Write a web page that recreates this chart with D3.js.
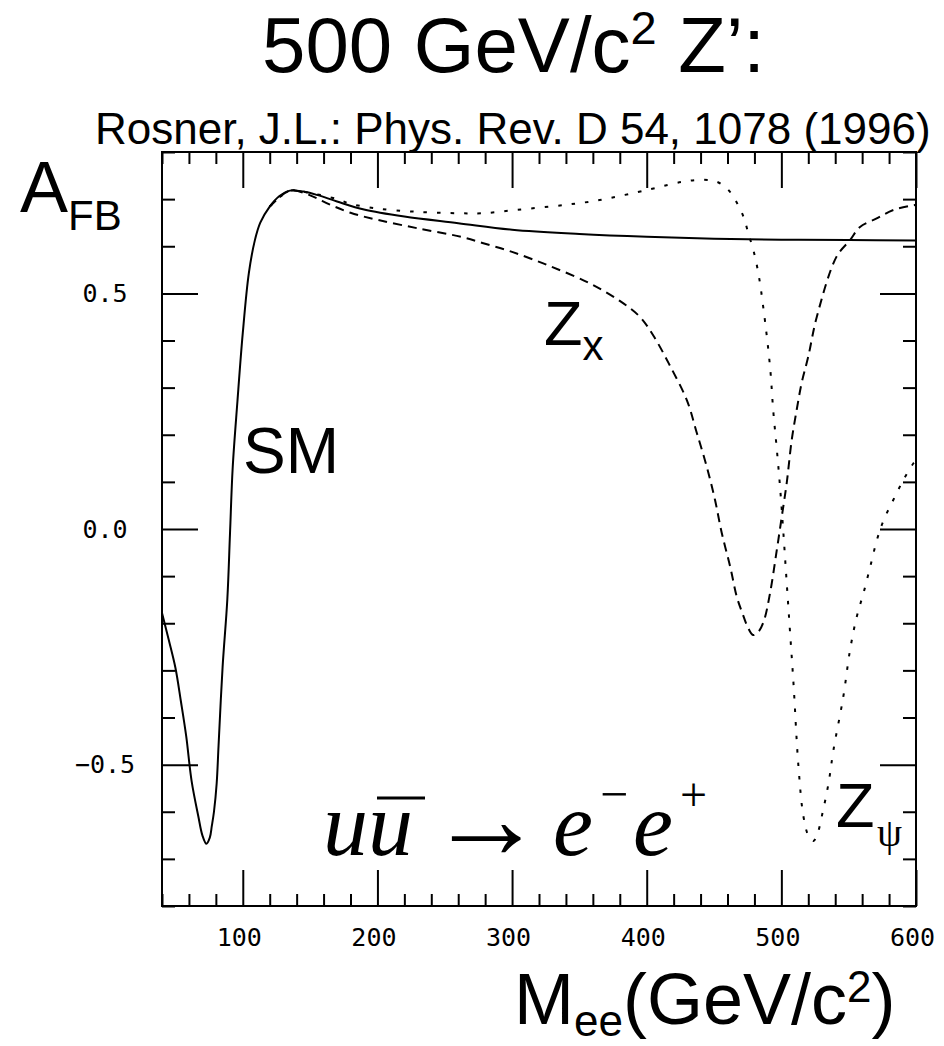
<!DOCTYPE html>
<html>
<head>
<meta charset="utf-8">
<script src="https://cdn.jsdelivr.net/npm/d3@7"></script>
<style>
  body { margin: 0; background: #fff; }
  svg { display: block; }
</style>
</head>
<body>
<div id="chart"></div>
<script>
// A_FB vs M_ee
const smMass = [40, 45, 50, 54, 58, 62, 67, 70, 73, 75.5, 77, 78.6, 80.6, 82, 85, 88.5, 90.5, 92.5, 96, 100,
  104.5, 109, 113, 120, 127, 135, 145, 155, 170, 190, 220, 260, 300, 350, 400, 450, 500, 550, 600];
const smAfb = [-0.178, -0.235, -0.295, -0.365, -0.44, -0.535, -0.61, -0.65, -0.668, -0.655, -0.63, -0.6, -0.54, -0.46, -0.293, -0.15, -0.01, 0.13, 0.27, 0.416,
  0.543, 0.613, 0.65, 0.684, 0.706, 0.718, 0.716, 0.709, 0.695, 0.678, 0.663, 0.649, 0.635, 0.626, 0.62, 0.616, 0.614, 0.613, 0.612];

const zxMass = [120, 135, 150, 165, 180, 200, 230, 262, 278, 300, 328, 358, 380, 395, 405, 417, 430, 437, 444.6, 450.7, 455.7,
  462, 467, 471, 475, 479, 483, 487, 491.6, 496.6, 500.3, 504, 507.7, 511.4, 515, 520, 526.3, 541, 551, 558.4, 570.8, 583.2, 600];
const zxAfb = [0.684, 0.718, 0.708, 0.688, 0.671, 0.656, 0.638, 0.62, 0.607, 0.588, 0.558, 0.521, 0.484, 0.45, 0.41, 0.348, 0.272, 0.206, 0.132, 0.062, -0.008,
  -0.08, -0.145, -0.178, -0.208, -0.225, -0.218, -0.195, -0.136, -0.045, 0.026, 0.098, 0.189, 0.253, 0.309, 0.366, 0.45, 0.578, 0.613, 0.641, 0.659, 0.677, 0.688];

const zpsiMass = [120, 135, 150, 170, 180, 200, 230, 262, 278, 303, 340, 365, 402.5, 427, 442, 452, 459.4, 464.4, 471.8, 475.5, 479.2, 482.9, 486.6,
  491.6, 494, 496.6, 499, 501.5, 504, 506.5, 509, 512.7, 516.4, 520, 523.8, 527, 530, 535, 538.7, 546, 551, 556, 561, 566, 571, 576, 583.2, 590.6, 598, 600];
const zpsiAfb = [0.684, 0.718, 0.713, 0.7, 0.69, 0.68, 0.673, 0.67, 0.67, 0.677, 0.688, 0.698, 0.721, 0.737, 0.741, 0.737, 0.723, 0.705, 0.663, 0.627, 0.592, 0.543, 0.47,
  0.344, 0.25, 0.17, 0.09, -0.008, -0.115, -0.221, -0.327, -0.504, -0.61, -0.65, -0.662, -0.645, -0.61, -0.54, -0.469, -0.356, -0.257, -0.186, -0.136, -0.08, -0.023, 0.019, 0.062, 0.104, 0.139, 0.145];

const xMajorTicks = [100, 200, 300, 400, 500, 600];
const xTickLabels = ["100", "200", "300", "400", "500", "600"];
const yMajorTicks = [-0.5, 0.0, 0.5];
const yTickLabels = ["\u22120.5", "0.0", "0.5"];

const W = 944, H = 1046;
const frame = { left: 162, right: 916, top: 152, bottom: 906 };

const svg = d3.select("#chart").append("svg")
  .attr("width", W)
  .attr("height", H);

const x = d3.scaleLinear().domain([40, 600]).range([frame.left, frame.right]);
const y = d3.scaleLinear().domain([-0.8, 0.8]).range([frame.bottom, frame.top]);

const xMinor = d3.range(40, 601, 20).filter(v => v % 100 !== 0);
const yMinor = d3.range(-8, 9).map(v => v / 10).filter(v => Math.abs(v * 10) % 5 !== 0);

const sans = "'Liberation Sans', Arial, sans-serif";
const serif = "'Liberation Serif', 'Times New Roman', serif";

function styleAxis(g) {
  g.select(".domain").remove();
  g.selectAll(".tick line").attr("stroke", "#000").attr("stroke-width", 2);
}

// bottom
svg.append("g")
  .attr("transform", `translate(0,${frame.bottom})`)
  .call(d3.axisBottom(x).tickValues(xMajorTicks).tickSizeInner(-36).tickSizeOuter(0)
    .tickPadding(22).tickFormat((d, i) => xTickLabels[i]))
  .call(styleAxis)
  .call(g => g.selectAll("text")
    .attr("dx", -4)
    .style("font-family", "'DejaVu Sans Mono', monospace")
    .style("font-size", "25px")
    .attr("fill", "#000"));
svg.append("g")
  .attr("transform", `translate(0,${frame.bottom})`)
  .call(d3.axisBottom(x).tickValues(xMinor).tickSizeInner(-12).tickSizeOuter(0).tickFormat(""))
  .call(styleAxis);

// top
svg.append("g")
  .attr("transform", `translate(0,${frame.top})`)
  .call(d3.axisTop(x).tickValues(xMajorTicks).tickSizeInner(-36).tickSizeOuter(0).tickFormat(""))
  .call(styleAxis);
svg.append("g")
  .attr("transform", `translate(0,${frame.top})`)
  .call(d3.axisTop(x).tickValues(xMinor).tickSizeInner(-12).tickSizeOuter(0).tickFormat(""))
  .call(styleAxis);

// left
svg.append("g")
  .attr("transform", `translate(${frame.left},0)`)
  .call(d3.axisLeft(y).tickValues(yMajorTicks).tickSizeInner(-36).tickSizeOuter(0)
    .tickPadding(57).tickFormat((d, i) => yTickLabels[i]))
  .call(styleAxis)
  .call(g => g.selectAll("text")
    .attr("text-anchor", "middle")
    .style("font-family", "'DejaVu Sans Mono', monospace")
    .style("font-size", "25px")
    .attr("fill", "#000"));
svg.append("g")
  .attr("transform", `translate(${frame.left},0)`)
  .call(d3.axisLeft(y).tickValues(yMinor).tickSizeInner(-13).tickSizeOuter(0).tickFormat(""))
  .call(styleAxis);

// right
svg.append("g")
  .attr("transform", `translate(${frame.right},0)`)
  .call(d3.axisRight(y).tickValues(yMajorTicks).tickSizeInner(-36).tickSizeOuter(0).tickFormat(""))
  .call(styleAxis);
svg.append("g")
  .attr("transform", `translate(${frame.right},0)`)
  .call(d3.axisRight(y).tickValues(yMinor).tickSizeInner(-13).tickSizeOuter(0).tickFormat(""))
  .call(styleAxis);

svg.append("rect")
  .attr("x", frame.left).attr("y", frame.top)
  .attr("width", frame.right - frame.left).attr("height", frame.bottom - frame.top)
  .attr("fill", "none").attr("stroke", "#000").attr("stroke-width", 2);

// curves
const line = d3.line()
  .x(d => x(d[0]))
  .y(d => y(d[1]))
  .curve(d3.curveCatmullRom.alpha(0.5));

const curves = [
  { mass: smMass, afb: smAfb, dash: null },
  { mass: zxMass, afb: zxAfb, dash: "9,6" },
  { mass: zpsiMass, afb: zpsiAfb, dash: "3.5,10" }
];

curves.forEach(c => {
  svg.append("path")
    .datum(d3.zip(c.mass, c.afb))
    .attr("d", line)
    .attr("fill", "none")
    .attr("stroke", "#000")
    .attr("stroke-width", 2)
    .attr("stroke-dasharray", c.dash);
});

// title + reference
const title = svg.append("text")
  .attr("x", 262).attr("y", 72)
  .style("font-family", sans).style("font-size", "78px");
title.append("tspan").text("500 GeV/c");
title.append("tspan").attr("dy", -28).style("font-size", "47px").text("2");
title.append("tspan").attr("dy", 28).text(" Z\u2019:");

svg.append("text")
  .attr("x", 95).attr("y", 144)
  .style("font-family", sans).style("font-size", "44px")
  .text("Rosner, J.L.: Phys. Rev. D 54, 1078 (1996)");

// y label
const ylab = svg.append("text")
  .attr("x", 20).attr("y", 212)
  .style("font-family", sans).style("font-size", "72px");
ylab.append("tspan").text("A");
ylab.append("tspan").attr("dy", 18).style("font-size", "42px").text("FB");

// x label
const xlab = svg.append("text")
  .attr("x", 514).attr("y", 1024)
  .style("font-family", sans).style("font-size", "72px");
xlab.append("tspan").text("M");
xlab.append("tspan").attr("dy", 12).style("font-size", "44px").text("ee");
xlab.append("tspan").attr("dy", -12).text("(GeV/c");
xlab.append("tspan").attr("dy", -22).style("font-size", "44px").text("2");
xlab.append("tspan").attr("dy", 22).text(")");

// curve labels
svg.append("text")
  .attr("x", 243).attr("y", 473)
  .style("font-family", sans).style("font-size", "64px")
  .text("SM");

const zx = svg.append("text")
  .attr("x", 544).attr("y", 345)
  .style("font-family", sans).style("font-size", "63px");
zx.append("tspan").text("Z");
zx.append("tspan").attr("dy", 15).style("font-size", "42px").text("x");

svg.append("text")
  .attr("x", 836).attr("y", 827)
  .style("font-family", sans).style("font-size", "63px")
  .text("Z");
svg.append("text")
  .attr("x", 877).attr("y", 846)
  .style("font-family", serif).style("font-size", "40px")
  .text("\u03c8");

// process: u ubar -> e- e+
svg.append("text")
  .attr("x", 323).attr("y", 855)
  .style("font-family", serif).style("font-style", "italic").style("font-size", "90px")
  .text("uu");
svg.append("line")
  .attr("x1", 377).attr("x2", 425).attr("y1", 798).attr("y2", 798)
  .attr("stroke", "#000").attr("stroke-width", 3);
svg.append("text")
  .attr("x", 428).attr("y", 858)
  .style("font-family", serif).style("font-size", "116px")
  .text("\u2192");
svg.append("text")
  .attr("x", 553).attr("y", 855)
  .style("font-family", serif).style("font-style", "italic").style("font-size", "90px")
  .text("e");
svg.append("text")
  .attr("x", 600).attr("y", 811)
  .style("font-family", serif).style("font-size", "50px")
  .text("\u2212");
svg.append("text")
  .attr("x", 633).attr("y", 855)
  .style("font-family", serif).style("font-style", "italic").style("font-size", "90px")
  .text("e");
svg.append("text")
  .attr("x", 680).attr("y", 811)
  .style("font-family", serif).style("font-size", "48px")
  .text("+");
</script>
</body>
</html>
